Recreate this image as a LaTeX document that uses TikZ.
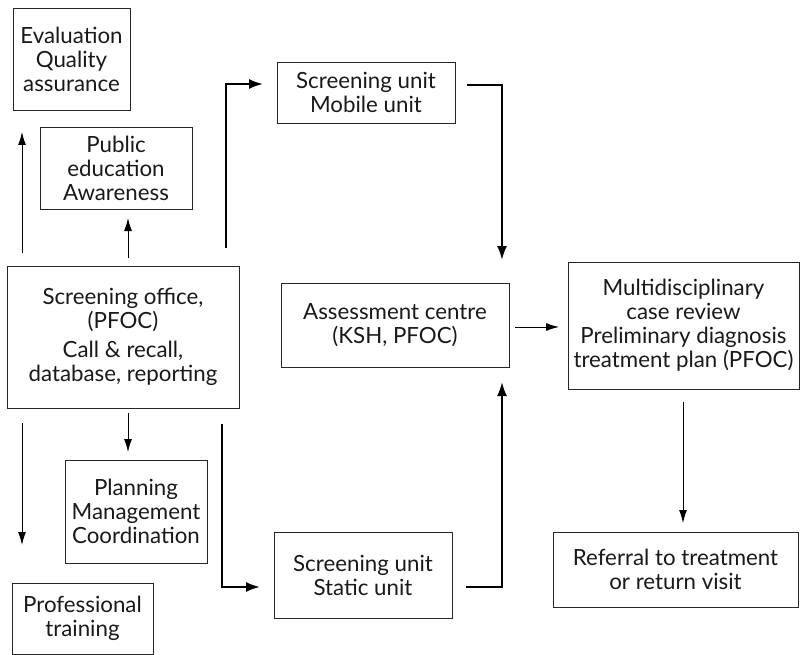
\documentclass[tikz,border=0pt]{standalone}
\usepackage{fontspec}
\setmainfont{Lato}
\usetikzlibrary{arrows.meta}
\begin{document}
\begin{tikzpicture}[x=1pt,y=-1pt,
  box/.style={draw=black!85,line width=0.9pt,align=center,inner sep=0pt,
    font=\fontsize{22.3}{24}\selectfont,text=black!90},
  thinarrow/.style={line width=1pt,-{Latex[length=13pt,width=8pt]}},
  boldarrow/.style={line width=2pt,-{Latex[length=14pt,width=10pt]}}]
\useasboundingbox (0,0) rectangle (800,655);
\node[box,minimum width=117pt,minimum height=102pt] (eval) at (71.5,59) {Evaluation\\Quality\\assurance};
\node[box,minimum width=152pt,minimum height=82pt] (pub) at (116,168) {Public\\education\\Awareness};
\node[box,minimum width=232pt,minimum height=142pt] (office) at (123,337) {Screening office,\\(PFOC)\\[5pt]Call \& recall,\\database, reporting};
\node[box,minimum width=142pt,minimum height=103pt] (plan) at (136,511.5) {Planning\\Management\\Coordination};
\node[box,minimum width=141pt,minimum height=71pt] (prof) at (82.5,618.5) {Professional\\training};
\node[box,minimum width=178pt,minimum height=61pt] (mobile) at (366,92.5) {Screening unit\\Mobile unit};
\node[box,minimum width=228pt,minimum height=84pt] (assess) at (395,325) {Assessment centre\\(KSH, PFOC)};
\node[box,minimum width=178pt,minimum height=86pt] (static) at (363,575) {Screening unit\\Static unit};
\node[box,minimum width=231pt,minimum height=127pt] (multi) at (683.5,325.5) {Multidisciplinary\\case review\\Preliminary diagnosis\\treatment plan (PFOC)};
\node[box,minimum width=245pt,minimum height=75pt] (ref) at (675.5,569.5) {Referral to treatment\\or return visit};

% connector end points
\coordinate (a1s) at (22,253);   \coordinate (a1e) at (22,132);
\coordinate (a2s) at (128,258);  \coordinate (a2e) at (128,218);
\coordinate (a3s) at (226,248);  \coordinate (a3e) at (263,84);
\coordinate (a4s) at (467,85);   \coordinate (a4e) at (502,260);
\coordinate (a5s) at (515,327);  \coordinate (a5e) at (559,327);
\coordinate (a6s) at (466,587);  \coordinate (a6e) at (502,382);
\coordinate (a7s) at (128,413);  \coordinate (a7e) at (128,452);
\coordinate (a8s) at (22,423);   \coordinate (a8e) at (22,545);
\coordinate (a9s) at (222,424);  \coordinate (a9e) at (260,587);
\coordinate (a10s) at (683,402); \coordinate (a10e) at (683,523);

\draw[thinarrow] (a1s) -- (a1e);
\draw[thinarrow] (a2s) -- (a2e);
\draw[boldarrow] (a3s) |- (a3e);
\draw[boldarrow] (a4s) -| (a4e);
\draw[thinarrow] (a5s) -- (a5e);
\draw[boldarrow] (a6s) -| (a6e);
\draw[thinarrow] (a7s) -- (a7e);
\draw[thinarrow] (a8s) -- (a8e);
\draw[boldarrow] (a9s) |- (a9e);
\draw[thinarrow] (a10s) -- (a10e);
\end{tikzpicture}
\end{document}
